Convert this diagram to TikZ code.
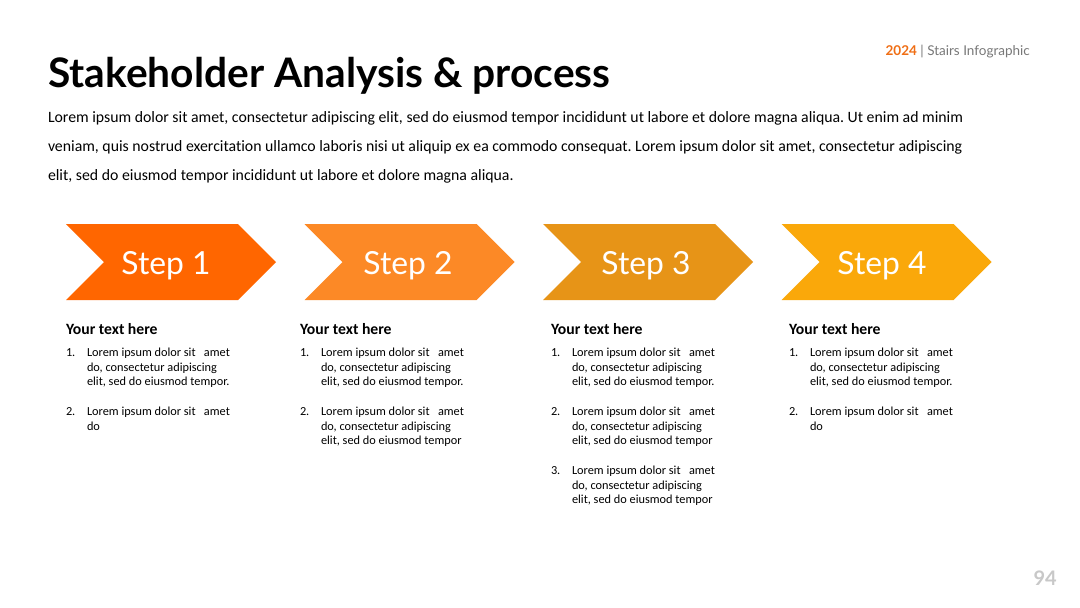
\documentclass[tikz,border=0pt]{standalone}
\usepackage{fontspec}
\setmainfont{Carlito}[Ligatures=NoCommon]
\newfontfamily\latofont{Lato}
\frenchspacing
\definecolor{cA}{RGB}{255,102,0}
\definecolor{cB}{RGB}{252,137,38}
\definecolor{cC}{RGB}{231,148,23}
\definecolor{cD}{RGB}{250,168,10}
\definecolor{txt}{RGB}{0,0,0}
\definecolor{hdrgray}{RGB}{120,120,120}
\definecolor{pggray}{RGB}{200,200,200}
\definecolor{hdrorange}{RGB}{240,110,20}
\tikzset{
  base/.style={inner sep=0pt, outer sep=0pt, anchor=base west},
  para/.style={base, font=\frenchspacing\fontsize{15.8}{18}\selectfont, text=txt},
  stepname/.style={inner sep=0pt, anchor=base, text=white, font=\latofont\fontsize{31.8}{36}\selectfont},
  colhead/.style={base, font=\bfseries\fontsize{15.7}{18}\selectfont},
  li/.style={base, font=\fontsize{12.3}{14}\selectfont},
}
\newcommand{\chev}[3]{% x, colour, name
  \fill[#2] (#1,224) -- ++(172,0) -- ++(38,38) -- ++(-38,38) -- ++(-172,0) -- ++(38,-38) -- cycle;
}
\newcommand{\sitamet}{Lorem ipsum dolor sit\ \ \ amet}
\begin{document}
\begin{tikzpicture}[x=1pt,y=-1pt]
\useasboundingbox (0,0) rectangle (1080,608);
\fill[white] (0,0) rectangle (1080,608);
% header
\node[inner sep=0pt, anchor=base east, font=\latofont\fontsize{13.5}{15}\selectfont] (hdr) at (1030,55) {\textcolor{hdrorange}{\bfseries 2024} \textcolor{hdrgray}{| Stairs Infographic}};
\node[base, font=\latofont\bfseries\fontsize{40.7}{46}\selectfont] (title) at (48,87) {Stakeholder Analysis \& process};
\node[para] (p1) at (48,122) {Lorem ipsum dolor sit amet, consectetur adipiscing elit, sed do eiusmod tempor incididunt ut labore et dolore magna aliqua. Ut enim ad minim};
\node[para] (p2) at (48,151) {veniam, quis nostrud exercitation ullamco laboris nisi ut aliquip ex ea commodo consequat. Lorem ipsum dolor sit amet, consectetur adipiscing};
\node[para] (p3) at (48,180) {elit, sed do eiusmod tempor incididunt ut labore et dolore magna aliqua.};
% chevrons
\chev{66}{cA}{s1}
\chev{304.5}{cB}{s2}
\chev{543}{cC}{s3}
\chev{781.5}{cD}{s4}
\node[stepname] (s1) at (166,274) {Step 1};
\node[stepname] (s2) at (408,274) {Step 2};
\node[stepname] (s3) at (646,274) {Step 3};
\node[stepname] (s4) at (882,274) {Step 4};
% columns
\foreach \cx/\nm in {66/a,300/b,551/c,789/d}{
  \node[colhead] (h\nm) at (\cx,334) {Your text here};
  \node[li] (n1\nm) at (\cx,356) {1.};
  \node[li] (l1\nm) at (\cx+21,356) {\sitamet};
  \node[li] (l2\nm) at (\cx+21,371) {do, consectetur adipiscing};
  \node[li] (l3\nm) at (\cx+21,385) {elit, sed do eiusmod tempor.};
  \node[li] (n2\nm) at (\cx,415) {2.};
  \node[li] (m1\nm) at (\cx+21,415) {\sitamet};
}
\node[li] (m2a) at (87,430) {do};
\node[li] (m2d) at (810,430) {do};
\node[li] (m2b) at (321,430) {do, consectetur adipiscing};
\node[li] (m3b) at (321,444) {elit, sed do eiusmod tempor};
\node[li] (m2c) at (572,430) {do, consectetur adipiscing};
\node[li] (m3c) at (572,444) {elit, sed do eiusmod tempor};
\node[li] (n3c) at (551,474) {3.};
\node[li] (k1c) at (572,474) {\sitamet};
\node[li] (k2c) at (572,489) {do, consectetur adipiscing};
\node[li] (k3c) at (572,503) {elit, sed do eiusmod tempor};
% page number
\node[inner sep=0pt, anchor=base east, text=pggray, font=\latofont\bfseries\fontsize{20}{22}\selectfont] (pg) at (1057,585) {94};
\end{tikzpicture}
\end{document}
